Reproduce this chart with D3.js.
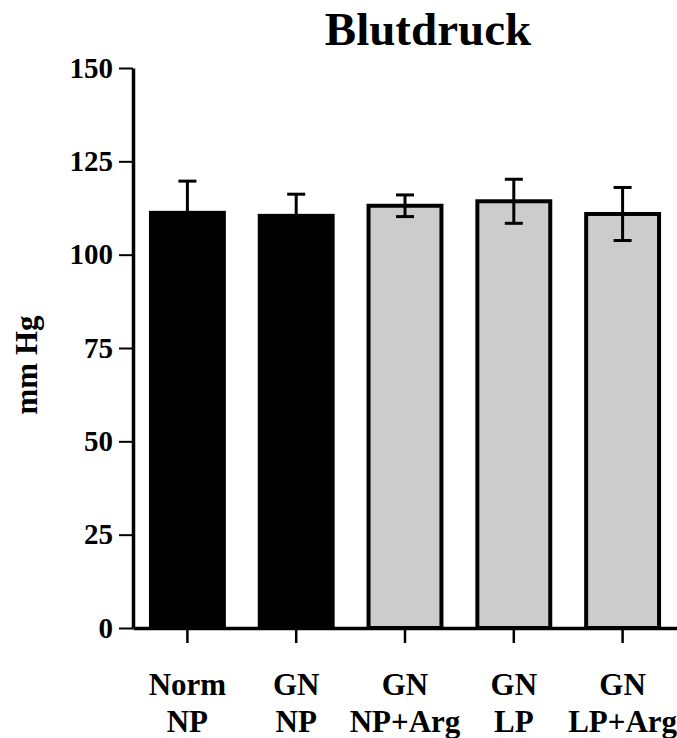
<!DOCTYPE html>
<html>
<head>
<meta charset="utf-8">
<style>
  body { margin: 0; background: #fff; }
  svg { display: block; font-family: "Liberation Serif", "Times New Roman", serif; font-weight: bold; }
</style>
</head>
<body>
<div id="container"></div>
<script src="https://d3js.org/d3.v7.min.js"></script>
<script>
// chart values
const groups = ["Norm NP", "GN NP", "GN NP+Arg", "GN LP", "GN LP+Arg"];
const labelTop = ["Norm", "GN", "GN", "GN", "GN"];
const labelBottom = ["NP", "NP", "NP+Arg", "LP", "LP+Arg"];
const means = [111.2, 110.4, 113.1, 114.3, 110.9];
const errors = [8.5, 5.8, 2.9, 5.9, 7.1];
const kind = ["black", "black", "grey", "grey", "grey"];
const yTicks = [0, 25, 50, 75, 100, 125, 150];

const width = 677;
const height = 738;

const data = groups.map((g, i) => ({
  group: g, top: labelTop[i], bottom: labelBottom[i],
  mean: means[i], err: errors[i], kind: kind[i]
}));

const x = d3.scaleBand()
    .domain(groups)
    .range([133, 677])
    .paddingInner(0.33)
    .paddingOuter(0.165);

const y = d3.scaleLinear()
    .domain([0, 150])
    .range([628, 68]);

const fill = d3.scaleOrdinal()
    .domain(["black", "grey"])
    .range(["#000000", "#cccccc"]);

const svg = d3.create("svg")
    .attr("width", width)
    .attr("height", height);

// title
svg.append("text")
    .attr("x", 428)
    .attr("y", 45)
    .attr("text-anchor", "middle")
    .attr("font-size", 47)
    .text("Blutdruck");

// y axis label
svg.append("text")
    .attr("transform", "translate(37,365) rotate(-90)")
    .attr("text-anchor", "middle")
    .attr("font-size", 31)
    .text("mm Hg");

// bars
svg.append("g")
  .selectAll("rect")
  .data(data)
  .join("rect")
    .attr("x", d => x(d.group))
    .attr("y", d => y(d.mean))
    .attr("width", x.bandwidth())
    .attr("height", d => y(0) - y(d.mean))
    .attr("fill", d => fill(d.kind))
    .attr("stroke", "#000")
    .attr("stroke-width", 4);

// error bars
const err = svg.append("g")
    .attr("stroke", "#000")
    .attr("stroke-width", 3)
  .selectAll("g")
  .data(data)
  .join("g")
    .attr("transform", d => `translate(${x(d.group) + x.bandwidth() / 2},0)`);

err.append("line")
    .attr("y1", d => y(d.mean - d.err))
    .attr("y2", d => y(d.mean + d.err));
err.append("line")
    .attr("x1", -9).attr("x2", 9)
    .attr("y1", d => y(d.mean + d.err))
    .attr("y2", d => y(d.mean + d.err));
err.append("line")
    .attr("x1", -9).attr("x2", 9)
    .attr("y1", d => y(d.mean - d.err))
    .attr("y2", d => y(d.mean - d.err));

// y axis
svg.append("g")
    .attr("transform", "translate(133,0)")
    .call(d3.axisLeft(y).tickValues(yTicks).tickSize(14).tickSizeOuter(0).tickPadding(6))
    .call(g => g.select(".domain").attr("stroke-width", 3.5))
    .call(g => g.selectAll(".tick line").attr("stroke-width", 2))
    .call(g => g.selectAll(".tick text")
        .attr("font-size", 29)
        .attr("font-family", "Liberation Serif, serif")
        .attr("font-weight", "bold")
        .attr("fill", "#000"));

// x axis
svg.append("g")
    .attr("transform", "translate(0,628)")
    .call(d3.axisBottom(x).tickSize(15).tickSizeOuter(0).tickFormat(""))
    .call(g => g.select(".domain").attr("stroke-width", 3.5))
    .call(g => g.selectAll(".tick line").attr("stroke-width", 2.5));

// category labels
const lab = svg.append("g")
    .attr("text-anchor", "middle")
    .attr("font-size", 31)
  .selectAll("text")
  .data(data)
  .join("text")
    .attr("x", d => x(d.group) + x.bandwidth() / 2);
lab.append("tspan")
    .attr("x", d => x(d.group) + x.bandwidth() / 2)
    .attr("y", 695)
    .text(d => d.top);
lab.append("tspan")
    .attr("x", d => x(d.group) + x.bandwidth() / 2)
    .attr("y", 732)
    .text(d => d.bottom);

document.getElementById("container").append(svg.node());
</script>
</body>
</html>
